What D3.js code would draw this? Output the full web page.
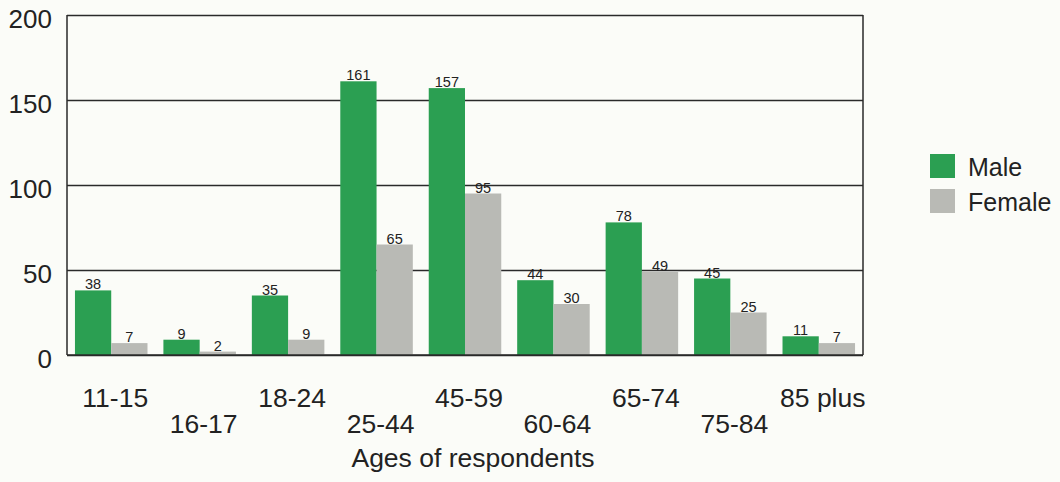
<html>
    <head>
        <script src = "https://d3js.org/d3.v7.min.js"></script>
    </head>

    <div class="main">
        <div class="visHolder"></div>
    </div>

    <script>
    /* global d3 */

    // chart data
    var ageGroups = ['11-15', '16-17', '18-24', '25-44', '45-59', '60-64', '65-74', '75-84', '85 plus'];
    var maleCounts = [38, 9, 35, 161, 157, 44, 78, 45, 11];
    var femaleCounts = [7, 2, 9, 65, 95, 30, 49, 25, 7];
    var seriesNames = ['Male', 'Female'];
    var yTicks = [0, 50, 100, 150, 200];

    var width = 1060,
    height = 482;

    var plotLeft = 67,
    plotRight = 863,
    plotTop = 15,
    plotBottom = 355;

    var colors = ['#2b9f52', '#b9bab5'];

    var svgContainer = d3
    .select('.visHolder')
    .append('svg')
    .attr('width', width)
    .attr('height', height);

    var xScale = d3
    .scaleBand()
    .domain(ageGroups)
    .range([plotLeft, plotRight])
    .paddingInner(0.18)
    .paddingOuter(0.09);

    var subScale = d3
    .scaleBand()
    .domain(seriesNames)
    .range([0, xScale.bandwidth()]);

    var yScale = d3.scaleLinear().domain([0, 200]).range([plotBottom, plotTop]);

    // horizontal grid lines
    var yAxis = d3
    .axisLeft(yScale)
    .tickValues(yTicks)
    .tickSize(-(plotRight - plotLeft))
    .tickPadding(15)
    .tickFormat(d3.format('d'));

    var yAxisG = svgContainer
    .append('g')
    .attr('id', 'y-axis')
    .attr('transform', 'translate(' + plotLeft + ', 0)')
    .call(yAxis);

    yAxisG.select('.domain').remove();
    yAxisG.selectAll('text').attr('dy', '0.62em').attr('y', -4);

    // frame lines
    svgContainer
    .append('line')
    .attr('class', 'frame')
    .attr('x1', plotRight)
    .attr('x2', plotRight)
    .attr('y1', yScale(200))
    .attr('y2', yScale(0));

    svgContainer
    .append('line')
    .attr('class', 'frame')
    .attr('x1', plotLeft)
    .attr('x2', plotLeft)
    .attr('y1', yScale(200))
    .attr('y2', yScale(0));

    var rows = ageGroups.map(function (g, i) {
        return { group: g, values: [maleCounts[i], femaleCounts[i]] };
    });

    var groups = svgContainer
    .selectAll('.group')
    .data(rows)
    .enter()
    .append('g')
    .attr('class', 'group')
    .attr('transform', function (d) {
        return 'translate(' + xScale(d.group) + ', 0)';
    });

    groups
    .selectAll('rect')
    .data(function (d) {
        return d.values.map(function (v, j) {
            return { name: seriesNames[j], value: v, idx: j };
        });
    })
    .enter()
    .append('rect')
    .attr('x', function (d) {
        return subScale(d.name);
    })
    .attr('y', function (d) {
        return yScale(d.value);
    })
    .attr('width', subScale.bandwidth())
    .attr('height', function (d) {
        return yScale(0) - yScale(d.value);
    })
    .style('fill', function (d) {
        return colors[d.idx];
    });

    groups
    .selectAll('.val')
    .data(function (d) {
        return d.values.map(function (v, j) {
            return { name: seriesNames[j], value: v };
        });
    })
    .enter()
    .append('text')
    .attr('class', 'val')
    .attr('x', function (d) {
        return subScale(d.name) + subScale.bandwidth() / 2;
    })
    .attr('y', function (d) {
        return yScale(d.value) - 1;
    })
    .attr('text-anchor', 'middle')
    .text(function (d) {
        return d.value;
    });

    // bottom baseline drawn on top of bars
    svgContainer
    .append('line')
    .attr('class', 'frame')
    .attr('x1', plotLeft)
    .attr('x2', plotRight)
    .attr('y1', yScale(0))
    .attr('y2', yScale(0));

    // staggered category labels
    svgContainer
    .selectAll('.xlabel')
    .data(ageGroups)
    .enter()
    .append('text')
    .attr('class', 'xlabel')
    .attr('x', function (d) {
        return xScale(d) + xScale.bandwidth() / 2 + 4;
    })
    .attr('y', function (d, i) {
        return i % 2 === 0 ? 407 : 433;
    })
    .attr('text-anchor', 'middle')
    .text(function (d) {
        return d;
    });

    svgContainer
    .append('text')
    .attr('class', 'xtitle')
    .attr('x', 473)
    .attr('y', 467)
    .attr('text-anchor', 'middle')
    .text('Ages of respondents');

    var legend = svgContainer
    .selectAll('.legend')
    .data(seriesNames)
    .enter()
    .append('g')
    .attr('class', 'legend')
    .attr('transform', function (d, i) {
        return 'translate(930, ' + (154 + i * 35) + ')';
    });

    legend
    .append('rect')
    .attr('width', 25)
    .attr('height', 24)
    .style('fill', function (d, i) {
        return colors[i];
    });

    legend
    .append('text')
    .attr('x', 38)
    .attr('y', 22)
    .text(function (d) {
        return d;
    });
    </script>

    <style>
    * {
        margin: 0;
        padding: 0;
    }

    body {
        background-color: #fbfcf8;
    }

    .main {
        width: 1060px;
        height: 482px;
        font-family: 'Liberation Sans', Arial, sans-serif;
    }

    #y-axis .tick line {
        stroke: #2a2a2a;
        stroke-width: 1.5;
    }

    #y-axis .tick text {
        font-size: 26px;
        fill: #222;
        font-family: 'Liberation Sans', Arial, sans-serif;
    }

    .frame {
        stroke: #2a2a2a;
        stroke-width: 1.5;
    }

    .val {
        font-size: 14.5px;
        fill: #222;
    }

    .xlabel, .xtitle {
        font-size: 26.5px;
        fill: #222;
    }

    .legend text {
        font-size: 25px;
        fill: #222;
    }
    </style>

</html>
